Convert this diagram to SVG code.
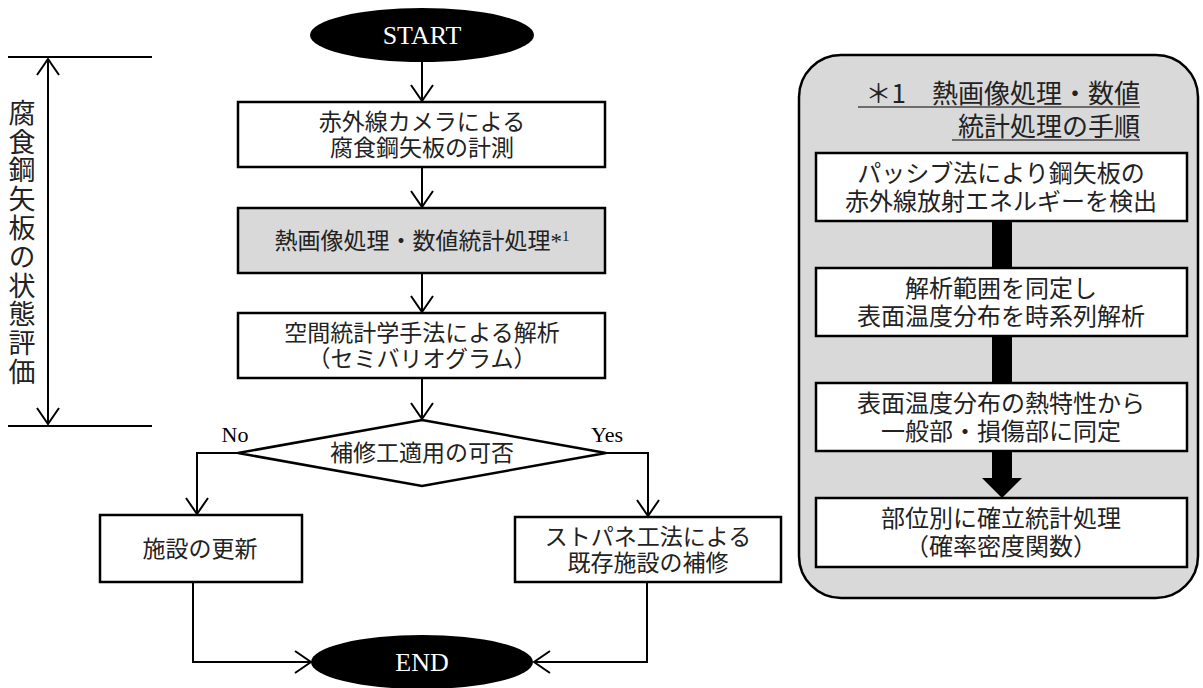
<svg xmlns="http://www.w3.org/2000/svg" width="1203" height="688" viewBox="0 0 1203 688">
<style>
.box{fill:#fff;stroke:#000;stroke-width:2.5}
.gbox{fill:#d9d9d9;stroke:#000;stroke-width:2.5}
.ln{fill:none;stroke:#000;stroke-width:2}
.jp{font-family:"Noto Sans CJK JP","Noto Sans CJK SC",sans-serif;fill:#222;text-anchor:middle}
.en{font-family:"Liberation Serif","Times New Roman",serif;fill:#000;text-anchor:middle}
.term{fill:#000}
.termtxt{font-family:"Liberation Serif","Times New Roman",serif;fill:#fff;text-anchor:middle;font-size:26px}
</style>
<defs>
<marker id="v" viewBox="-18 -13 20 26" refX="0" refY="0" markerWidth="20" markerHeight="26" markerUnits="userSpaceOnUse" orient="auto-start-reverse">
<path d="M-16,-11 L0,0 L-16,11" fill="none" stroke="#000" stroke-width="2"/>
</marker>
</defs>

<g id="bracket">
<line class="ln" x1="8" y1="57" x2="152" y2="57"/>
<line class="ln" x1="8" y1="426" x2="152" y2="426"/>
<line class="ln" x1="48" y1="59" x2="48" y2="424" marker-start="url(#v)" marker-end="url(#v)"/>
<text x="22" y="99" writing-mode="tb" style="font-family:'Noto Sans CJK JP','Noto Sans CJK SC',sans-serif;font-size:27px;letter-spacing:1.8px;fill:#222">腐食鋼矢板の状態評価</text>
</g>

<g id="start">
<ellipse class="term" cx="422" cy="35" rx="112" ry="27"/>
<text class="termtxt" x="422" y="44">START</text>
</g>

<g id="measure">
<rect class="box" x="238" y="102" width="367" height="65"/>
<text class="jp" style="font-size:23px"><tspan x="422" y="130">赤外線カメラによる</tspan><tspan x="422" y="156">腐食鋼矢板の計測</tspan></text>
</g>

<g id="thermal">
<rect class="gbox" x="238" y="208" width="367" height="65"/>
<text class="jp" style="font-size:23px" x="422" y="249">熱画像処理・数値統計処理<tspan style="font-family:'Liberation Serif',serif">*</tspan><tspan style="font-family:'Liberation Serif',serif;font-size:15px" dy="-8">1</tspan></text>
</g>

<g id="spatial">
<rect class="box" x="238" y="313" width="367" height="65"/>
<text class="jp" style="font-size:23px"><tspan x="422" y="341">空間統計学手法による解析</tspan><tspan x="422" y="367">（セミバリオグラム）</tspan></text>
</g>

<g id="decision">
<polygon class="box" points="422,420 606,453 422,486 238,453"/>
<text class="jp" style="font-size:23px" x="422" y="461">補修工適用の可否</text>
<text class="en" style="font-size:22px" x="235" y="442">No</text>
<text class="en" style="font-size:22px" x="607" y="442">Yes</text>
</g>

<g id="renew">
<rect class="box" x="100" y="515" width="202" height="67"/>
<text class="jp" style="font-size:23px" x="200" y="557">施設の更新</text>
</g>

<g id="repair">
<rect class="box" x="515" y="517" width="266" height="65"/>
<text class="jp" style="font-size:23px"><tspan x="648" y="545">ストパネ工法による</tspan><tspan x="648" y="571">既存施設の補修</tspan></text>
</g>

<g id="end">
<ellipse class="term" cx="422" cy="662" rx="111" ry="27"/>
<text class="termtxt" x="422" y="671">END</text>
</g>

<g id="connectors">
<line class="ln" x1="422" y1="62" x2="422" y2="101" marker-end="url(#v)"/>
<line class="ln" x1="422" y1="167" x2="422" y2="207" marker-end="url(#v)"/>
<line class="ln" x1="422" y1="273" x2="422" y2="312" marker-end="url(#v)"/>
<line class="ln" x1="422" y1="378" x2="422" y2="419" marker-end="url(#v)"/>
<polyline class="ln" points="238,453 197,453 197,514" marker-end="url(#v)"/>
<polyline class="ln" points="606,453 648,453 648,516" marker-end="url(#v)"/>
<polyline class="ln" points="193,582 193,662 311,662" marker-end="url(#v)"/>
<polyline class="ln" points="647,582 647,662 534,662" marker-end="url(#v)"/>
</g>

<g id="panel">
<rect x="799" y="55" width="399" height="543" rx="42" ry="42" fill="#d9d9d9" stroke="#000" stroke-width="2.5"/>
<text class="jp" style="font-size:26px;text-anchor:end" x="1140" y="103">＊1　熱画像処理・数値</text>
<line x1="858" y1="107" x2="1140" y2="107" stroke="#000" stroke-width="1.2"/>
<text class="jp" style="font-size:26px;text-anchor:end" x="1140" y="136">統計処理の手順</text>
<line x1="952" y1="140" x2="1140" y2="140" stroke="#000" stroke-width="1.2"/>
</g>

<g id="p-connectors">
<rect x="992" y="221" width="20" height="47" fill="#000"/>
<rect x="992" y="336" width="20" height="47" fill="#000"/>
<polygon points="992,451 1012,451 1012,478 1022,478 1002,498 982,478 992,478" fill="#000"/>
</g>

<g id="p-detect">
<rect class="box" x="816" y="153" width="371" height="68"/>
<text class="jp" style="font-size:24px"><tspan x="1001" y="182">パッシブ法により鋼矢板の</tspan><tspan x="1001" y="210">赤外線放射エネルギーを検出</tspan></text>
</g>

<g id="p-range">
<rect class="box" x="816" y="268" width="371" height="68"/>
<text class="jp" style="font-size:24px"><tspan x="1001" y="297">解析範囲を同定し</tspan><tspan x="1001" y="325">表面温度分布を時系列解析</tspan></text>
</g>

<g id="p-identify">
<rect class="box" x="816" y="383" width="371" height="68"/>
<text class="jp" style="font-size:24px"><tspan x="1001" y="412">表面温度分布の熱特性から</tspan><tspan x="1001" y="440">一般部・損傷部に同定</tspan></text>
</g>

<g id="p-stats">
<rect class="box" x="816" y="498" width="371" height="69"/>
<text class="jp" style="font-size:24px"><tspan x="1001" y="527">部位別に確立統計処理</tspan><tspan x="1001" y="555">（確率密度関数）</tspan></text>
</g>
</svg>
